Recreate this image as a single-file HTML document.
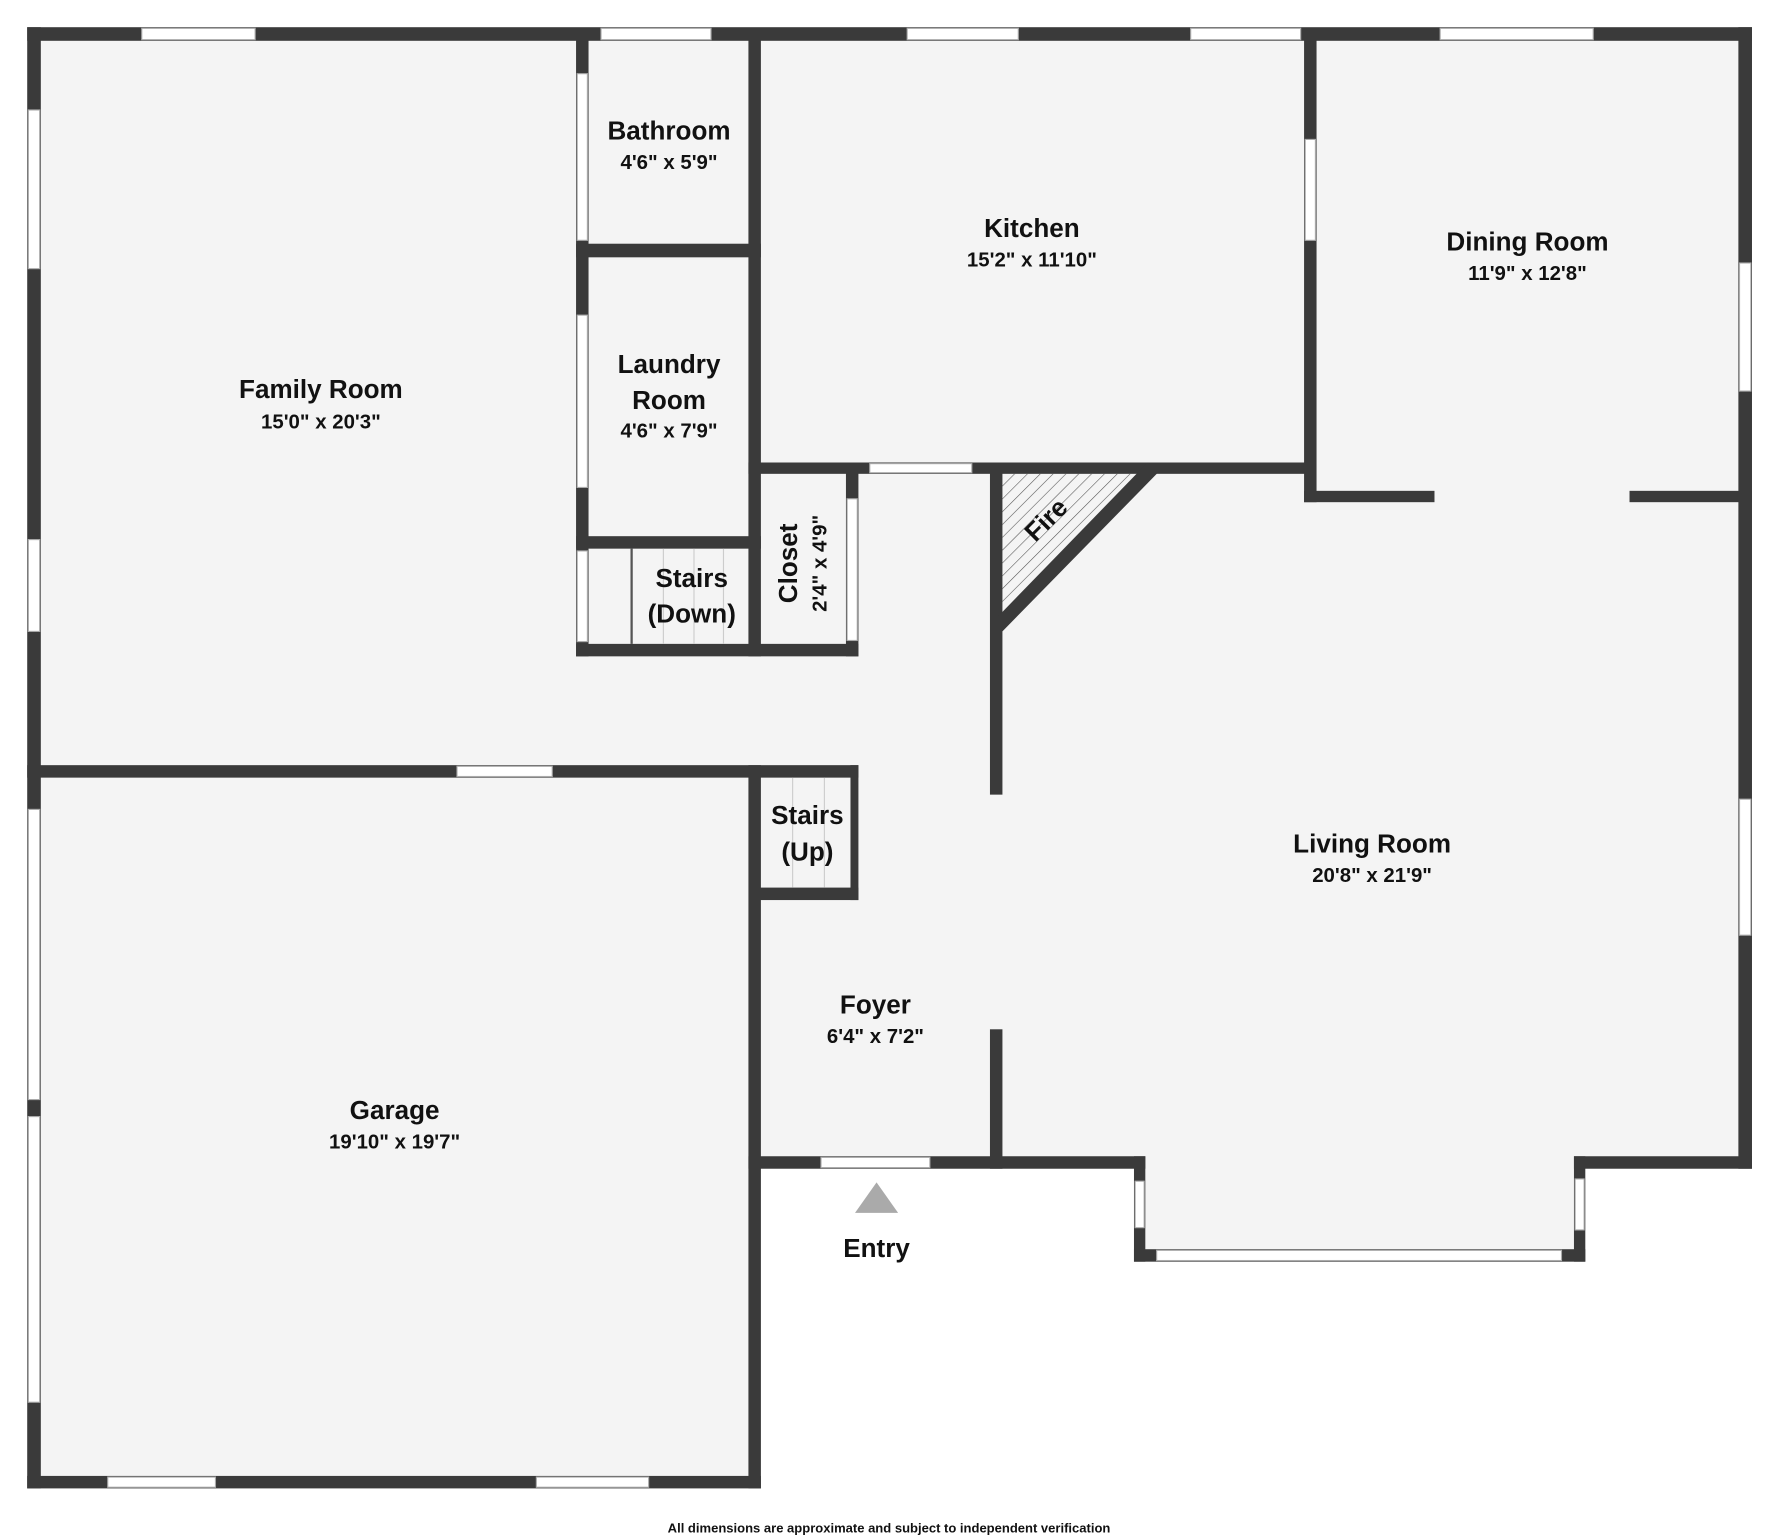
<!DOCTYPE html>
<html><head><meta charset="utf-8"><style>
html,body{margin:0;padding:0;background:#fff}
svg{display:block}
text{font-family:"Liberation Sans","DejaVu Sans",sans-serif;font-weight:bold;fill:#111;text-anchor:middle}
.n{font-size:23px}.d{font-size:18px}
</style></head><body>
<svg width="1769" height="1536" viewBox="0 0 1560 1355" preserveAspectRatio="none" xmlns="http://www.w3.org/2000/svg">
<defs><pattern id="h" width="8" height="8" patternUnits="userSpaceOnUse" patternTransform="rotate(45)"><line x1="0" y1="0" x2="0" y2="8" stroke="#555" stroke-width="1"/></pattern></defs>
<rect width="1560" height="1355" fill="#fff"/>
<polygon points="24,24 1545,24 1545,1031 1398,1031 1398,1113 1000,1113 1000,1031 671,1031 671,1313 24,1313" fill="#f4f4f4"/>
<polygon points="884,418 1010,418 884,545" fill="url(#h)"/>
<g fill="#3a3a3a">
<rect x="24" y="24" width="1521" height="12"/>
<rect x="24" y="24" width="12" height="1289"/>
<rect x="1533" y="24" width="12" height="1007"/>
<rect x="1388" y="1020" width="157" height="11"/>
<rect x="1388" y="1020" width="10" height="93"/>
<rect x="1000" y="1102" width="398" height="11"/>
<rect x="1000" y="1020" width="10" height="93"/>
<rect x="660" y="1020" width="350" height="11"/>
<rect x="24" y="1302" width="647" height="11"/>
<rect x="660" y="675" width="11" height="638"/>
<rect x="24" y="675" width="733" height="11"/>
<rect x="508" y="35" width="11" height="544"/>
<rect x="660" y="35" width="11" height="544"/>
<rect x="508" y="215" width="163" height="12"/>
<rect x="508" y="473" width="163" height="11"/>
<rect x="508" y="568" width="249" height="11"/>
<rect x="746" y="408" width="11" height="171"/>
<rect x="660" y="408" width="500" height="10"/>
<rect x="1150" y="35" width="11" height="408"/>
<rect x="1150" y="433" width="115" height="10"/>
<rect x="1437" y="433" width="108" height="10"/>
<rect x="873" y="408" width="11" height="293"/>
<polygon points="1012,408 1024,414 884,557 876,548"/>
<rect x="873" y="908" width="11" height="123"/>
<rect x="665" y="783" width="92" height="11"/>
<rect x="750" y="675" width="7" height="119"/>
</g>
<line x1="557" y1="484" x2="557" y2="568" stroke="#555" stroke-width="2"/>
<g stroke="#ccc" stroke-width="1"><line x1="585" y1="484" x2="585" y2="568"/><line x1="612" y1="484" x2="612" y2="568"/><line x1="638" y1="484" x2="638" y2="568"/><line x1="699" y1="686" x2="699" y2="783"/><line x1="727" y1="686" x2="727" y2="783"/></g>
<g fill="#fff" stroke="#aaa" stroke-width="1">
<rect x="125" y="25" width="100" height="10"/><rect x="530" y="25" width="97" height="10"/><rect x="800" y="25" width="98" height="10"/><rect x="1050" y="25" width="97" height="10"/><rect x="1270" y="25" width="135" height="10"/>
<rect x="25" y="97" width="10" height="140"/><rect x="25" y="476" width="10" height="81"/><rect x="25" y="714" width="10" height="256"/><rect x="25" y="985" width="10" height="252"/>
<rect x="1534" y="232" width="10" height="113"/><rect x="1534" y="705" width="10" height="120"/>
<rect x="509" y="65" width="9" height="147"/><rect x="509" y="278" width="9" height="152"/><rect x="509" y="486" width="9" height="80"/>
<rect x="747" y="440" width="9" height="125"/>
<rect x="767" y="409" width="90" height="8"/><rect x="1151" y="123" width="9" height="89"/>
<rect x="403" y="676" width="84" height="9"/>
<rect x="95" y="1303" width="95" height="9"/><rect x="473" y="1303" width="99" height="9"/>
<rect x="724" y="1021" width="96" height="9"/>
<rect x="1001" y="1042" width="8" height="41"/><rect x="1389" y="1040" width="8" height="45"/><rect x="1020" y="1103" width="357" height="9"/>
</g>
<polygon points="773,1043 754,1070 792,1070" fill="#aaa"/>
<text class="n" x="590" y="123">Bathroom</text><text class="d" x="590" y="149">4'6" x 5'9"</text>
<text class="n" x="910" y="209">Kitchen</text><text class="d" x="910" y="235">15'2" x 11'10"</text>
<text class="n" x="1347" y="221">Dining Room</text><text class="d" x="1347" y="247">11'9" x 12'8"</text>
<text class="n" x="283" y="351">Family Room</text><text class="d" x="283" y="378">15'0" x 20'3"</text>
<text class="n" x="590" y="329">Laundry</text><text class="n" x="590" y="361">Room</text><text class="d" x="590" y="386">4'6" x 7'9"</text>
<text class="n" x="610" y="518">Stairs</text><text class="n" x="610" y="549">(Down)</text>
<text class="n" transform="translate(703,497) rotate(-90)">Closet</text>
<text class="d" transform="translate(729,497) rotate(-90)">2'4" x 4'9"</text>
<text class="n" transform="translate(928,464) rotate(-45)">Fire</text>
<text class="n" x="712" y="727">Stairs</text><text class="n" x="712" y="759">(Up)</text>
<text class="n" x="1210" y="752">Living Room</text><text class="d" x="1210" y="778">20'8" x 21'9"</text>
<text class="n" x="772" y="894">Foyer</text><text class="d" x="772" y="920">6'4" x 7'2"</text>
<text class="n" x="348" y="987">Garage</text><text class="d" x="348" y="1013">19'10" x 19'7"</text>
<text class="n" x="773" y="1109">Entry</text>
<text x="784" y="1352" style="font-size:11.5px">All dimensions are approximate and subject to independent verification</text>
</svg>
</body></html>
